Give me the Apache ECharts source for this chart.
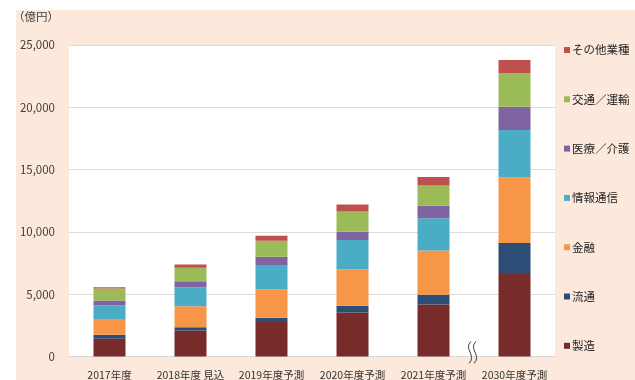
<!DOCTYPE html>
<html><head><meta charset="utf-8">
<script src="https://cdn.jsdelivr.net/npm/echarts@6/dist/echarts.min.js"></script>
<style>
html,body{margin:0;padding:0;background:#fff;}
#bg{position:absolute;left:16px;top:10px;width:619px;height:370px;background:#fde9dc;}
#chart{position:absolute;left:0;top:0;width:635px;height:380px;}
</style></head>
<body><div id="bg"></div><div id="chart"></div>
<script>
var categories = ['2017年度','2018年度 見込','2019年度予測','2020年度予測','2021年度予測','2030年度予測'];
var seizo   = [1420, 2080, 2765, 3525, 4165, 6625];
var ryutsu  = [320, 265, 335, 545, 800, 2480];
var kinyu   = [1200, 1680, 2300, 2925, 3540, 5270];
var joho    = [1180, 1540, 1945, 2355, 2600, 3805];
var iryo    = [370, 465, 665, 665, 1000, 1870];
var kotsu   = [960, 1090, 1275, 1625, 1610, 2675];
var sonota  = [110, 255, 400, 560, 700, 1065];
var seriesNames = ['製造','流通','金融','情報通信','医療／介護','交通／運輸','その他業種'];
var seriesData = [seizo, ryutsu, kinyu, joho, iryo, kotsu, sonota];
var colors = ['#772c2a','#2c4d75','#f79646','#4bacc6','#8064a2','#9bbb59','#c0504d'];
var yTicks = {min:0, max:25000, interval:5000};
var unitLabel = '（億円）';

var font = '"Noto Sans CJK JP", "Noto Sans", sans-serif';
var chart = echarts.init(document.getElementById('chart'), null, {renderer:'canvas'});
var option = {
  animation:false,
  textStyle:{fontFamily:font},
  grid:{left:69,right:80,top:45,bottom:23,show:true,backgroundColor:'#ffffff',borderWidth:0},
  legend:{
    orient:'vertical', left:559, top:38,
    data: seriesNames.slice().reverse(),
    icon:'rect', itemWidth:6, itemHeight:6, itemGap:35.3,
    textStyle:{fontSize:11.5, color:'#262626', lineHeight:14, fontFamily:font, padding:[0,0,0,-3]}
  },
  xAxis:{
    type:'category', data:categories,
    axisLine:{lineStyle:{color:'#d9d9d9'}},
    axisTick:{show:false},
    axisLabel:{color:'#333', fontSize:10.5, margin:13, interval:0, fontFamily:font}
  },
  yAxis:{
    type:'value', min:yTicks.min, max:yTicks.max, interval:yTicks.interval,
    axisLine:{show:false}, axisTick:{show:false},
    splitLine:{lineStyle:{color:'#dcdcdc'}},
    axisLabel:{color:'#404040', fontSize:11.5, margin:14, fontFamily:font,
      formatter:function(v){return v.toLocaleString('en-US');}}
  },
  series: seriesNames.map(function(n,i){
    return {name:n, type:'bar', stack:'total', data:seriesData[i], barWidth:32,
      itemStyle:{color:colors[i]}};
  })
};
chart.setOption(option);

var x1 = chart.convertToPixel({xAxisIndex:0}, categories[4]);
var x2 = chart.convertToPixel({xAxisIndex:0}, categories[5]);
var xm = (x1 + x2) / 2;
var y0 = chart.convertToPixel({yAxisIndex:0}, 0);
function wave(dx){
  return {type:'bezierCurve', silent:true, z:100,
    shape:{x1:xm+dx+1, y1:y0-15, cpx1:xm+dx-7, cpy1:y0-8, cpx2:xm+dx+7, cpy2:y0-1, x2:xm+dx-1, y2:y0+7},
    style:{stroke:'#404040', lineWidth:1, fill:null}};
}
chart.setOption({graphic:[
  {type:'text', left:13, top:11, style:{text:unitLabel, fill:'#404040', font:'11.5px '+font}},
  wave(-4), wave(1)
]});
</script></body></html>
